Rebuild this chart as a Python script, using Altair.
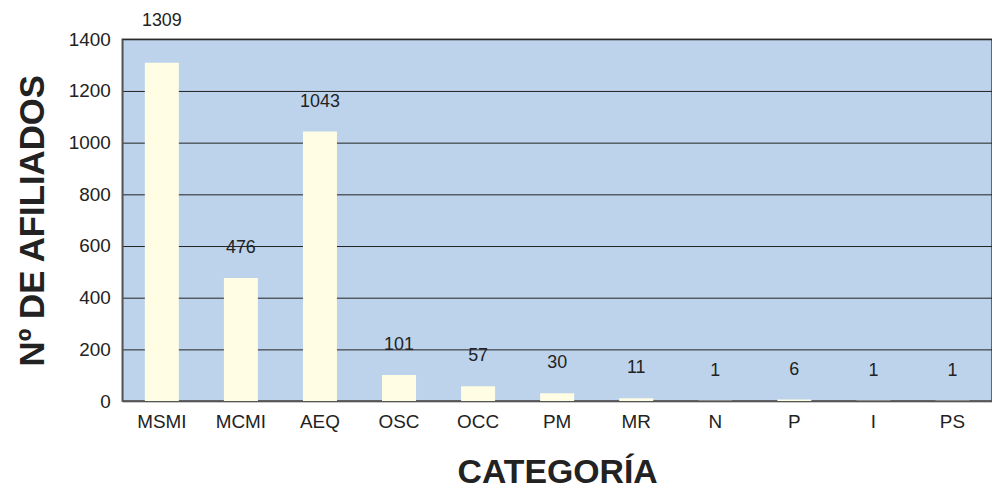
import altair as alt
import pandas as pd

categories = ["MSMI", "MCMI", "AEQ", "OSC", "OCC", "PM", "MR", "N", "P", "I", "PS"]
values = [1309, 476, 1043, 101, 57, 30, 11, 1, 6, 1, 1]

df = pd.DataFrame({"cat": categories, "val": values})

FONT = "Liberation Sans"

x = alt.X("cat:N", sort=categories, title="CATEGORÍA",
          scale=alt.Scale(paddingInner=0.57, paddingOuter=0.285),
          axis=alt.Axis(labelAngle=0, labelFontSize=19, labelColor="#222", labelPadding=12,
                        ticks=False, domainColor="#555", domainWidth=1.5,
                        titleFontSize=34, titleFontWeight="bold", titleColor="#222",
                        titlePadding=24, labelFont=FONT, titleFont=FONT))
y = alt.Y("val:Q", title="Nº DE AFILIADOS",
          scale=alt.Scale(domain=[0, 1400], nice=False),
          axis=alt.Axis(values=[0, 200, 400, 600, 800, 1000, 1200, 1400], format="d",
                        labelFontSize=19, labelColor="#222", labelPadding=12,
                        ticks=False, domainColor="#555", domainWidth=1.5,
                        gridColor="#222", gridWidth=1,
                        titleFontSize=35, titleFontWeight="bold", titleColor="#222",
                        titlePadding=18, labelFont=FONT, titleFont=FONT))

bars = alt.Chart(df).mark_bar(color="#FFFDE3").encode(x=x, y=y)

lab_low = alt.Chart(df).transform_filter("datum.val < 1300").mark_text(
    dy=-30, fontSize=18, color="#222", font=FONT).encode(
    x=alt.X("cat:N", sort=categories), y="val:Q", text="val:Q")
lab_high = alt.Chart(df).transform_filter("datum.val >= 1300").mark_text(
    dy=-42, fontSize=18, color="#222", font=FONT).encode(
    x=alt.X("cat:N", sort=categories), y="val:Q", text="val:Q")

chart = (bars + lab_low + lab_high).properties(
    width=875, height=364,
    autosize=alt.AutoSizeParams(type="none"),
    padding={"left": 115, "top": 30, "right": 0, "bottom": 89},
).configure(background="white").configure_view(fill="#BDD3EC", stroke="#444", strokeWidth=1.5)

chart.save("out.html", embed_options={"renderer": "svg", "actions": False})
